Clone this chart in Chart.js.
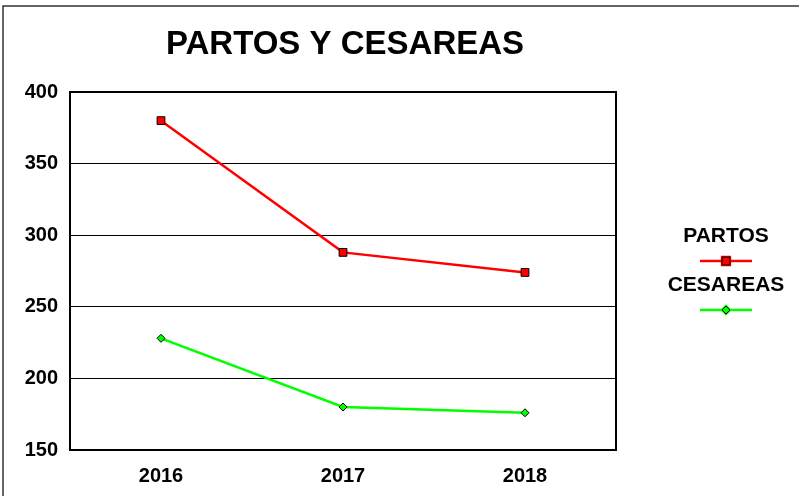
<!DOCTYPE html>
<html>
<head>
<meta charset="utf-8">
<title>Partos y cesareas</title>
<script src="https://cdn.jsdelivr.net/npm/chart.js@4/dist/chart.umd.min.js"></script>
<style>
  html, body { margin: 0; padding: 0; background: #fff; }
  #wrap { width: 799px; height: 496px; position: relative; }
</style>
</head>
<body>
<div id="wrap"><canvas id="chart"></canvas></div>
<script>
const years = ["2016", "2017", "2018"];
const partos = [380, 288, 274];
const cesareas = [228, 180, 176];
const yMin = 150;
const yMax = 400;
const yStep = 50;

const FONT = "Arial, 'Liberation Sans', sans-serif";

// outer frame (top + left edge only), title and the side legend
const decorPlugin = {
  id: "decor",
  beforeDraw(chart){
    const ctx = chart.ctx;
    ctx.save();
    ctx.fillStyle = "#fff";
    ctx.fillRect(0, 0, chart.width, chart.height);
    ctx.strokeStyle = "#333";
    ctx.lineWidth = 1.5;
    ctx.beginPath();
    ctx.moveTo(3, chart.height);
    ctx.lineTo(3, 6);
    ctx.lineTo(chart.width, 6);
    ctx.stroke();
    ctx.restore();
  },
  beforeDatasetsDraw(chart){
    const { ctx, chartArea: a } = chart;
    ctx.save();
    ctx.strokeStyle = "#000";
    ctx.lineWidth = 2;
    ctx.strokeRect(a.left, a.top, a.right - a.left, a.bottom - a.top);
    ctx.restore();
  },
  afterDraw(chart){
    const ctx = chart.ctx;
    ctx.save();
    ctx.fillStyle = "#000";
    ctx.textAlign = "center";
    ctx.textBaseline = "middle";
    ctx.font = "bold 33px " + FONT;
    ctx.fillText("PARTOS Y CESAREAS", 345, 45);

    // legend: label above, line sample with marker below
    const cx = 726;
    const rows = [236, 285];
    chart.data.datasets.forEach((ds, i) => {
      const ty = rows[i];
      ctx.font = "bold 21px " + FONT;
      ctx.fillStyle = "#000";
      ctx.fillText(ds.label, cx, ty);
      const ly = ty + 25;
      ctx.strokeStyle = ds.borderColor;
      ctx.lineWidth = ds.borderWidth;
      ctx.beginPath();
      ctx.moveTo(cx - 26, ly);
      ctx.lineTo(cx + 26, ly);
      ctx.stroke();
      Chart.helpers.drawPoint(ctx, {
        pointStyle: ds.pointStyle,
        radius: ds.pointRadius,
        borderWidth: ds.pointBorderWidth,
        rotation: 0
      }, cx, ly);
      ctx.fillStyle = ds.pointBackgroundColor;
      ctx.strokeStyle = ds.pointBorderColor;
      ctx.lineWidth = ds.pointBorderWidth;
      ctx.fill();
      ctx.stroke();
    });
    ctx.restore();
  }
};

new Chart(document.getElementById("chart"), {
  type: "line",
  data: {
    labels: years,
    datasets: [
      {
        label: "PARTOS",
        data: partos,
        borderColor: "#ff0000",
        borderWidth: 2.5,
        pointStyle: "rect",
        pointRadius: 5.5,
        pointBackgroundColor: "#ff0000",
        pointBorderColor: "#000",
        pointBorderWidth: 1,
        tension: 0
      },
      {
        label: "CESAREAS",
        data: cesareas,
        borderColor: "#00ff00",
        borderWidth: 2.5,
        pointStyle: "rectRot",
        pointRadius: 4,
        pointBackgroundColor: "#00ff00",
        pointBorderColor: "#000",
        pointBorderWidth: 1,
        tension: 0
      }
    ]
  },
  options: {
    responsive: true,
    maintainAspectRatio: false,
    animation: false,
    layout: { padding: { top: 92, right: 183, bottom: 0, left: 0 } },
    plugins: {
      legend: { display: false },
      title: { display: false },
      tooltip: { enabled: false }
    },
    scales: {
      x: {
        offset: true,
        afterFit: (s) => { s.height = 46; },
        grid: { display: false, drawTicks: false },
        border: { display: false },
        ticks: {
          color: "#000",
          padding: 14,
          font: { family: FONT, size: 20, weight: "bold" }
        }
      },
      y: {
        min: yMin,
        max: yMax,
        afterFit: (s) => { s.width = 70; },
        grid: { color: "#000", lineWidth: 1, drawTicks: false },
        border: { display: false },
        ticks: {
          stepSize: yStep,
          color: "#000",
          padding: 12,
          font: { family: FONT, size: 20, weight: "bold" }
        }
      }
    }
  },
  plugins: [decorPlugin]
});
</script>
</body>
</html>
